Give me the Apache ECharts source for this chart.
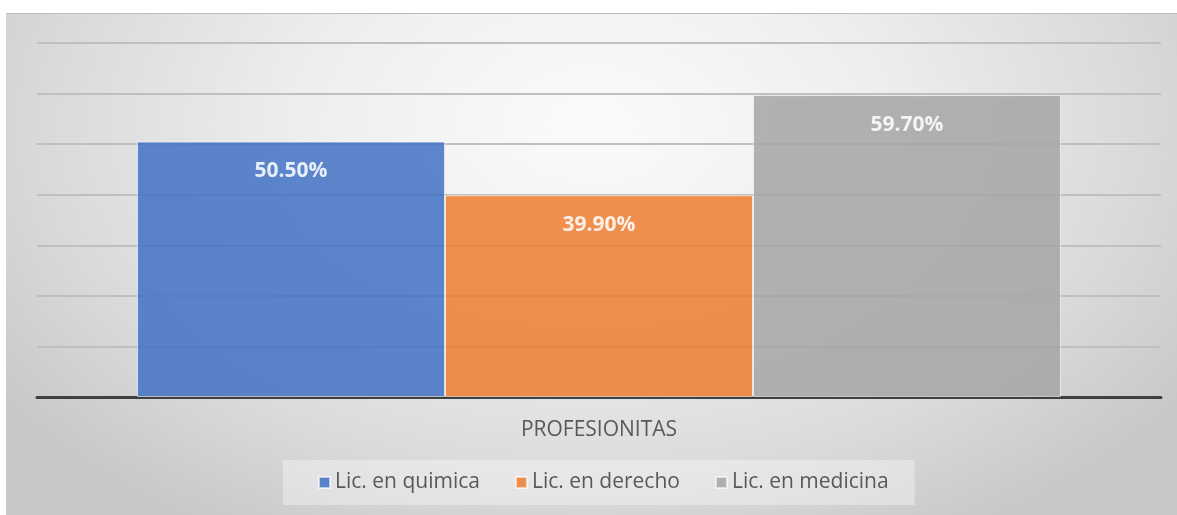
<!DOCTYPE html>
<html>
<head>
<meta charset="utf-8">
<script src="https://cdn.jsdelivr.net/npm/echarts@6/dist/echarts.min.js"></script>
<style>
  html, body { margin: 0; padding: 0; background: #ffffff; width: 1177px; height: 515px; overflow: hidden; }
  #chart {
    position: absolute; left: 6px; top: 13px; width: 1171px; height: 502px;
    background: radial-gradient(ellipse 62% 95% at 50% 22%, #fbfbfb 0%, #eeeeee 40%, #dadada 75%, #c8c8c8 100%);
    border-top: 1px solid #bdbdbd;
    box-sizing: border-box;
  }
</style>
</head>
<body>
<div id="chart"></div>
<script>
const categories = ['PROFESIONITAS'];
const seriesNames = ['Lic. en quimica', 'Lic. en derecho', 'Lic. en medicina'];
const quimica = [50.5];
const derecho = [39.9];
const medicina = [59.7];
const seriesColors = ['#4472C4', '#ED7D31', '#A5A5A5'];

const chart = echarts.init(document.getElementById('chart'), null, { renderer: 'canvas' });
const values = [quimica, derecho, medicina];

const series = seriesNames.map((name, i) => ({
  name: name,
  type: 'bar',
  data: values[i],
  barGap: '0%',
  barCategoryGap: '17.8%',
  itemStyle: { color: seriesColors[i], opacity: 0.86, borderColor: 'rgba(255,255,255,0.7)', borderWidth: 1 },
  label: {
    show: true,
    position: 'insideTop',
    distance: 19,
    color: '#ffffff',
    fontFamily: 'Open Sans',
    fontWeight: 'bold',
    fontSize: 21,
    formatter: p => p.value.toFixed(2) + '%'
  }
}));

chart.setOption({
  animation: false,
  backgroundColor: 'transparent',
  grid: { left: 31, right: 16, top: 29, bottom: 118 },
  legend: {
    data: seriesNames,
    bottom: 10,
    left: 277,
    itemWidth: 11,
    itemHeight: 11,
    itemGap: 35,
    icon: 'rect',
    padding: [12, 26, 12, 35],
    backgroundColor: 'rgba(255,255,255,0.35)',
    textStyle: { color: '#595959', fontFamily: 'Open Sans', fontSize: 21 }
  },
  xAxis: {
    type: 'category',
    data: categories,
    axisLine: { lineStyle: { color: '#404040', width: 3 } },
    axisTick: { show: false },
    axisLabel: { color: '#595959', fontFamily: 'Open Sans', fontSize: 21, margin: 23 }
  },
  yAxis: {
    type: 'value',
    min: 0, max: 70, interval: 10,
    axisLabel: { show: false },
    axisLine: { show: false },
    axisTick: { show: false },
    splitLine: { lineStyle: { color: '#bfbfbf', width: 2 } }
  },
  series: series
});
</script>
</body>
</html>
